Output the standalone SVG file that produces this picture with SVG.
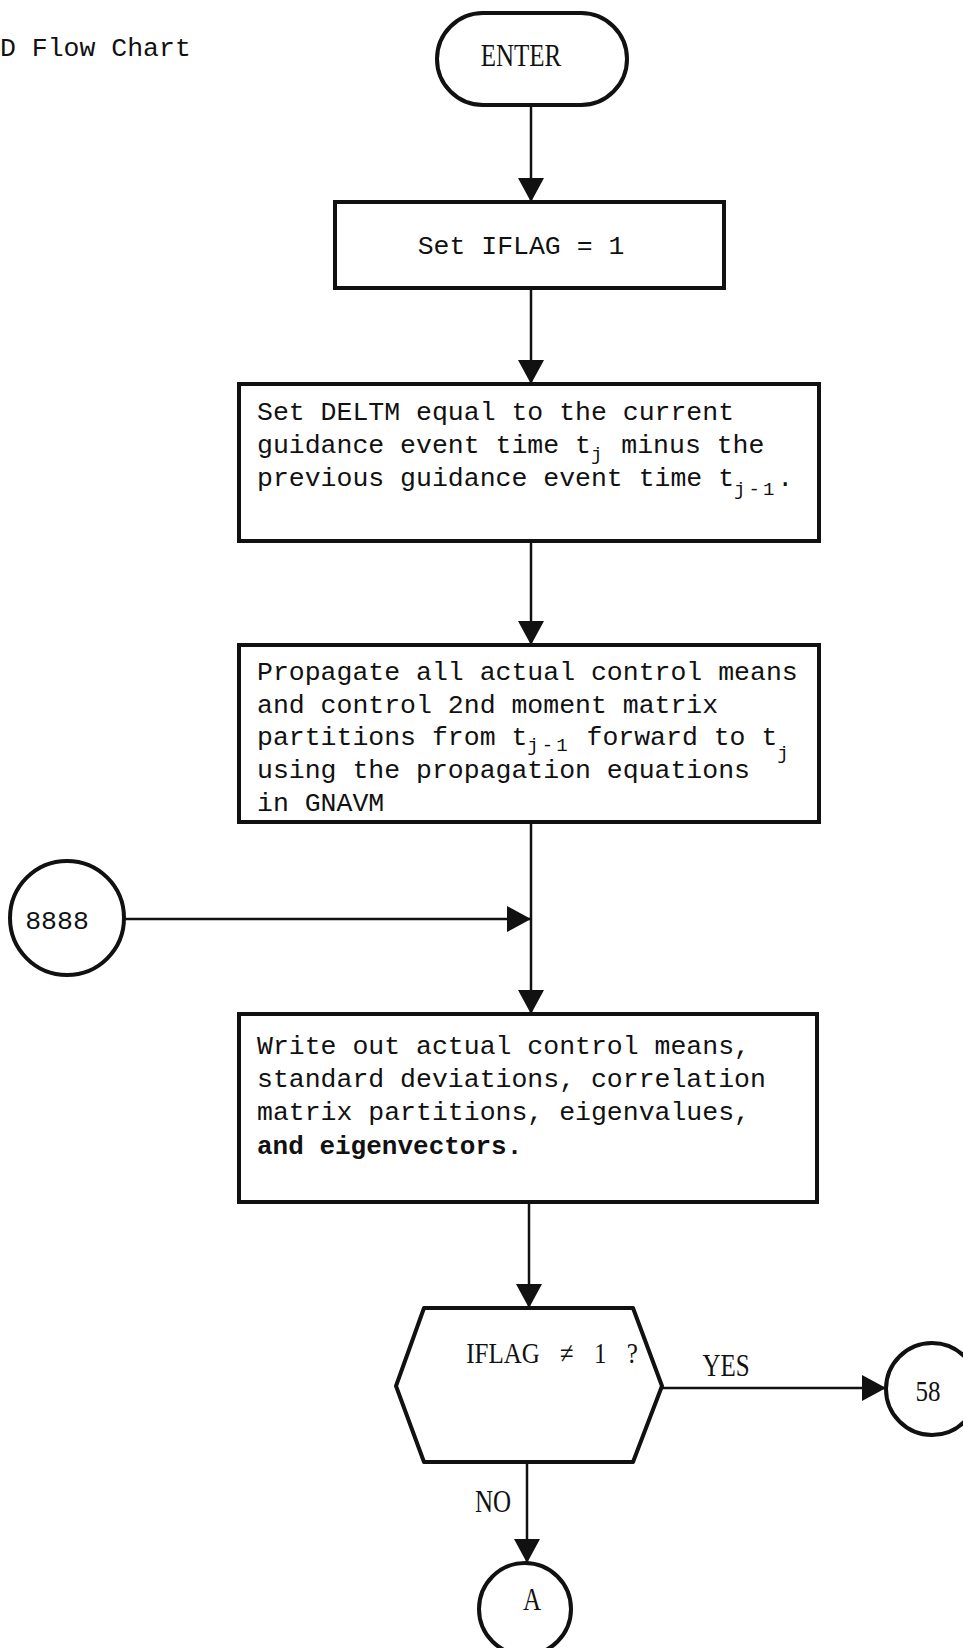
<svg xmlns="http://www.w3.org/2000/svg" width="963" height="1648" viewBox="0 0 963 1648">
<style>
.node{fill:#fff;stroke:#111;stroke-width:4}
.conn{fill:none;stroke:#111;stroke-width:2.5}
.mono{font-family:"Liberation Mono","DejaVu Sans Mono",monospace;font-size:26.5px;fill:#111}
.bold{font-family:"Liberation Mono","DejaVu Sans Mono",monospace;font-size:26px;font-weight:bold;fill:#111}
.sub{font-size:19px;letter-spacing:3px}
.serif{font-family:"Liberation Serif","Times New Roman",serif;font-size:25px;fill:#111}
</style>
<defs>
<marker id="arr" markerUnits="userSpaceOnUse" markerWidth="26" markerHeight="26" viewBox="0 0 26 26" refX="24" refY="13" orient="auto">
<path d="M0,0 L24,13 L0,26 Z" fill="#111"/>
</marker>
</defs>
<text class="mono" x="0" y="56">D Flow Chart</text>
<g id="connectors">
<line class="conn" x1="531" y1="105" x2="531" y2="202" marker-end="url(#arr)"/>
<line class="conn" x1="531" y1="288" x2="531" y2="384" marker-end="url(#arr)"/>
<line class="conn" x1="531" y1="541" x2="531" y2="645" marker-end="url(#arr)"/>
<line class="conn" x1="531" y1="822" x2="531" y2="1014" marker-end="url(#arr)"/>
<line class="conn" x1="124" y1="919" x2="531" y2="919" marker-end="url(#arr)"/>
<line class="conn" x1="529" y1="1202" x2="529" y2="1308" marker-end="url(#arr)"/>
<line class="conn" x1="662" y1="1388" x2="886" y2="1388" marker-end="url(#arr)"/>
<line class="conn" x1="527" y1="1462" x2="527" y2="1563" marker-end="url(#arr)"/>
<text class="serif" transform="translate(726,1376) scale(1,1.3)" text-anchor="middle">YES</text>
<text class="serif" transform="translate(493,1512) scale(1,1.3)" text-anchor="middle" font-size="27">NO</text>
</g>
<g id="enter">
<rect class="node" x="437" y="13" width="190" height="92" rx="46" ry="46"/>
<text class="serif" transform="translate(521,66) scale(1,1.3)" text-anchor="middle">ENTER</text>
</g>
<g id="set-iflag">
<rect class="node" x="335" y="202" width="389" height="86"/>
<text class="mono" x="521" y="254" text-anchor="middle">Set IFLAG = 1</text>
</g>
<g id="set-deltm">
<rect class="node" x="239" y="384" width="580" height="157"/>
<text class="mono" x="257" y="420">Set DELTM equal to the current</text>
<text class="mono" x="257" y="453">guidance event time t<tspan class="sub" dy="7">j</tspan><tspan dy="-7"> minus the</tspan></text>
<text class="mono" x="257" y="486">previous guidance event time t<tspan class="sub" dy="9">j-1</tspan><tspan dy="-9">.</tspan></text>
</g>
<g id="propagate">
<rect class="node" x="239" y="645" width="580" height="177"/>
<text class="mono" x="257" y="680">Propagate all actual control means</text>
<text class="mono" x="257" y="713">and control 2nd moment matrix</text>
<text class="mono" x="257" y="745">partitions from t<tspan class="sub" dy="6">j-1</tspan><tspan dy="-6"> forward to t</tspan><tspan class="sub" dy="14">j</tspan></text>
<text class="mono" x="257" y="778">using the propagation equations</text>
<text class="mono" x="257" y="811">in GNAVM</text>
</g>
<g id="c8888">
<circle class="node" cx="67" cy="918" r="57"/>
<text class="mono" x="57" y="929" text-anchor="middle" font-size="29">8888</text>
</g>
<g id="write-out">
<rect class="node" x="239" y="1014" width="578" height="188"/>
<text class="mono" x="257" y="1054">Write out actual control means,</text>
<text class="mono" x="257" y="1087">standard deviations, correlation</text>
<text class="mono" x="257" y="1120">matrix partitions, eigenvalues,</text>
<text class="bold" x="257" y="1154">and eigenvectors.</text>
</g>
<g id="decision">
<path class="node" stroke-linejoin="round" d="M424,1308 L633,1308 L662,1386 L633,1462 L424,1462 L396,1386 Z"/>
<text class="serif" transform="translate(552,1363) scale(1,1.2)" text-anchor="middle" font-size="28" word-spacing="14">IFLAG ≠ 1 ?</text>
</g>
<g id="c58">
<circle class="node" cx="932" cy="1389" r="46"/>
<text class="serif" transform="translate(928,1401) scale(1,1.2)" text-anchor="middle" font-size="32">58</text>
</g>
<g id="cA">
<circle class="node" cx="525" cy="1609" r="46"/>
<text class="serif" transform="translate(532,1610) scale(1,1.3)" text-anchor="middle" font-size="26">A</text>
</g>
</svg>
